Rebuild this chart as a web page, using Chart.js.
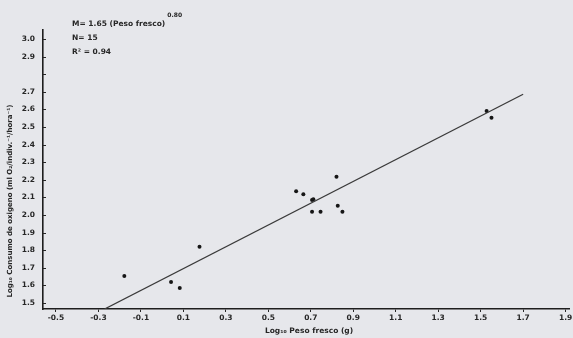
<!DOCTYPE html>
<html>
<head>
<meta charset="utf-8">
<script src="https://cdn.jsdelivr.net/npm/chart.js@4/dist/chart.umd.min.js"></script>
<style>
html,body{margin:0;padding:0;background:#e6e7eb;}
#wrap{width:573px;height:338px;position:relative;}
</style>
</head>
<body>
<div id="wrap"><canvas id="c" width="573" height="338"></canvas></div>
<script>
// Observed data (log10 fresh weight, log10 oxygen consumption)
const pesoLog = [-0.178, 0.042, 0.083, 0.176, 0.631, 0.665, 0.706, 0.712, 0.706, 0.746, 0.821, 0.827, 0.849, 1.528, 1.551];
const consumoLog = [1.653, 1.619, 1.585, 1.820, 2.135, 2.118, 2.085, 2.090, 2.019, 2.019, 2.218, 2.053, 2.019, 2.591, 2.553];
// Regression line end points
const fitX = [-0.271, 1.700];
const fitY = [1.466, 2.686];
// Tick values / labels
const xTickValues = [-0.5, -0.3, -0.1, 0.1, 0.3, 0.5, 0.7, 0.9, 1.1, 1.3, 1.5, 1.7, 1.9];
const xTickLabels = ['-0.5', '-0.3', '-0.1', '0.1', '0.3', '0.5', '0.7', '0.9', '1.1', '1.3', '1.5', '1.7', '1.9'];
const yTickValues = [1.5, 1.6, 1.7, 1.8, 1.9, 2.0, 2.1, 2.2, 2.3, 2.4, 2.5, 2.6, 2.7, 2.8, 2.9, 3.0];
const yTickLabels = ['1.5', '1.6', '1.7', '1.8', '1.9', '2.0', '2.1', '2.2', '2.3', '2.4', '2.5', '2.6', '2.7', '', '2.9', '3.0'];
const annotLines = ['M= 1.65 (Peso fresco)', 'N= 15', 'R² = 0.94'];
const annotExp = '0.80';
const xTitle = 'Log₁₀ Peso fresco (g)';
const yTitle = 'Log₁₀ Consumo de oxigeno (ml O₂/indiv.⁻¹/hora⁻¹)';

const INK = '#262626';
const FONT = 'bold 7.5px "DejaVu Sans"';

const pointsData = pesoLog.map((x, i) => ({x: x, y: consumoLog[i]}));
const lineData = fitX.map((x, i) => ({x: x, y: fitY[i]}));

const extras = {
  id: 'extras',
  afterDraw(chart) {
    const ctx = chart.ctx;
    const xs = chart.scales.x, ys = chart.scales.y;
    ctx.save();
    ctx.strokeStyle = INK;
    ctx.lineWidth = 1;
    // inward y ticks
    yTickValues.forEach(v => {
      const py = Math.round(ys.getPixelForValue(v)) + 0.5;
      ctx.beginPath();
      ctx.moveTo(xs.left, py);
      ctx.lineTo(xs.left + 3, py);
      ctx.stroke();
    });
    ctx.fillStyle = INK;
    ctx.font = FONT;
    ctx.textBaseline = 'middle';
    ctx.textAlign = 'left';
    // annotation
    ctx.fillText(annotLines[0], 72, 24);
    const w0 = ctx.measureText(annotLines[0]).width;
    ctx.font = 'bold 6px "DejaVu Sans"';
    ctx.fillText(annotExp, 72 + w0 + 2, 15);
    ctx.font = FONT;
    ctx.fillText(annotLines[1], 72, 38);
    ctx.fillText(annotLines[2], 72, 52);
    // x title
    ctx.textAlign = 'center';
    ctx.fillText(xTitle, 309, 331);
    // y title
    ctx.font = 'bold 7px "DejaVu Sans"';
    ctx.translate(10, 201);
    ctx.rotate(-Math.PI / 2);
    ctx.fillText(yTitle, 0, 0);
    ctx.restore();
  }
};

new Chart(document.getElementById('c'), {
  type: 'scatter',
  data: {
    datasets: [
      {
        type: 'line',
        data: lineData,
        borderColor: '#3a3a3a',
        borderWidth: 1.3,
        pointRadius: 0,
        fill: false,
        tension: 0
      },
      {
        data: pointsData,
        backgroundColor: '#161616',
        borderColor: '#161616',
        pointRadius: 2,
        borderWidth: 0
      }
    ]
  },
  options: {
    responsive: false,
    animation: false,
    layout: {padding: {top: 30, right: 0, left: 0, bottom: 0}},
    plugins: {legend: {display: false}, tooltip: {enabled: false}},
    scales: {
      x: {
        type: 'linear',
        min: -0.561,
        max: 1.916,
        afterBuildTicks: s => { s.ticks = xTickValues.map(v => ({value: v})); },
        afterFit: s => { s.height = 29; s.paddingLeft = 0; s.paddingRight = 0; },
        ticks: {
          autoSkip: false,
          maxRotation: 0,
          color: INK,
          font: {family: 'DejaVu Sans', size: 7.5, weight: 'bold'},
          padding: 2,
          callback: v => { const i = xTickValues.findIndex(t => Math.abs(t - v) < 1e-6); return i >= 0 ? xTickLabels[i] : ''; }
        },
        grid: {display: true, drawOnChartArea: false, drawTicks: true, tickLength: 3, color: INK, tickColor: INK, tickWidth: 1},
        border: {display: true, color: '#1e1e1e', width: 1.6}
      },
      y: {
        type: 'linear',
        min: 1.466,
        max: 3.051,
        afterBuildTicks: s => { s.ticks = yTickValues.map(v => ({value: v})); },
        afterFit: s => { s.width = 43; s.paddingTop = 0; s.paddingBottom = 0; },
        ticks: {
          autoSkip: false,
          color: INK,
          font: {family: 'DejaVu Sans', size: 7.5, weight: 'bold'},
          padding: 8,
          callback: v => { const i = yTickValues.findIndex(t => Math.abs(t - v) < 1e-6); return i >= 0 ? yTickLabels[i] : ''; }
        },
        grid: {display: false, drawTicks: false},
        border: {display: true, color: '#1e1e1e', width: 1.6}
      }
    }
  },
  plugins: [extras]
});
</script>
</body>
</html>
